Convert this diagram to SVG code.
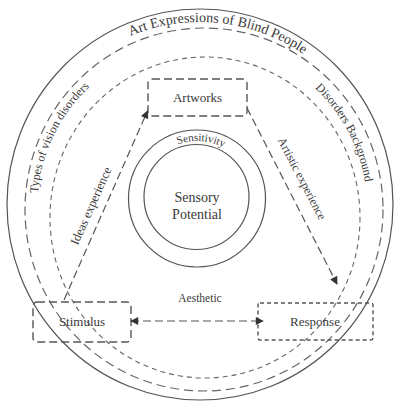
<svg xmlns="http://www.w3.org/2000/svg" width="395" height="403" viewBox="0 0 395 403">
<style>
text{font-family:"Liberation Serif","Times New Roman",serif;fill:#3a3a3a}
.solid{fill:none;stroke:#555;stroke-width:1.2}
.ring1{fill:none;stroke:#666;stroke-width:1.2;stroke-dasharray:9 5}
.ring2{fill:none;stroke:#666;stroke-width:1.1;stroke-dasharray:5 4}
.boxL{fill:none;stroke:#555;stroke-width:1.4;stroke-dasharray:8 4}
.boxS{fill:none;stroke:#555;stroke-width:1.4;stroke-dasharray:4 3}
.conn{fill:none;stroke:#555;stroke-width:1.2;stroke-dasharray:8 4}
</style>
<defs>
<marker id="ah" viewBox="0 0 10 10" refX="9" refY="5" markerWidth="9" markerHeight="8" markerUnits="userSpaceOnUse" orient="auto-start-reverse">
<path d="M0,0 L10,5 L0,10 z" fill="#333"/>
</marker>
<path id="pTop" d="M52 97.4 A183 183 0 0 1 367.2 130.6"/>
<path id="pLeft" d="M65.4 300.8 A166 166 0 0 1 191.4 42.4"/>
<path id="pRight" d="M208.7 44.1 A164 164 0 0 1 342.1 294.9"/>
<path id="pSens" d="M141.7 184.2 A57 57 0 0 1 253.7 192"/>
</defs>

<g id="outer-circle">
<ellipse class="solid" cx="200" cy="204.5" rx="193" ry="195.5"/>
<text font-size="14" text-anchor="middle"><textPath href="#pTop" startOffset="50%">Art Expressions of Blind People</textPath></text>
</g>
<g id="ring-outer">
<ellipse class="ring1" cx="204" cy="209.5" rx="179" ry="181.5"/>
</g>
<g id="ring-inner">
<ellipse class="ring2" cx="205" cy="217.5" rx="155" ry="160.5"/>
</g>
<g id="types-label">
<text font-size="12" text-anchor="middle"><textPath href="#pLeft" startOffset="50%">Types of vision disorders</textPath></text>
</g>
<g id="background-label">
<text font-size="12" text-anchor="middle"><textPath href="#pRight" startOffset="50%">Disorders Background</textPath></text>
</g>

<g id="sensitivity">
<circle class="solid" cx="197" cy="198.5" r="68.5"/>
<text font-size="11" text-anchor="middle"><textPath href="#pSens" startOffset="50%">Sensitivity</textPath></text>
</g>
<g id="sensory-potential">
<circle class="solid" cx="196.5" cy="197" r="52.5"/>
<text x="197" y="202" font-size="14" text-anchor="middle">Sensory</text>
<text x="197" y="219" font-size="14" text-anchor="middle">Potential</text>
</g>

<g id="artworks">
<rect class="boxL" x="148" y="79" width="99" height="37" rx="4"/>
<text x="197.5" y="102" font-size="13" text-anchor="middle">Artworks</text>
</g>
<g id="stimulus">
<rect class="boxL" x="33" y="302" width="98" height="40" rx="4"/>
<text x="82" y="326" font-size="13" text-anchor="middle">Stimulus</text>
</g>
<g id="response">
<rect class="boxS" x="258" y="303" width="115" height="37" rx="2"/>
<text x="315" y="326" font-size="13" text-anchor="middle">Response</text>
</g>

<g id="connectors">
<line class="conn" x1="64" y1="300" x2="147.5" y2="111" marker-end="url(#ah)"/>
<line class="conn" x1="247" y1="108" x2="337" y2="284" marker-end="url(#ah)"/>
<line class="conn" x1="131" y1="321" x2="263" y2="321" marker-start="url(#ah)" marker-end="url(#ah)"/>
<text font-size="12.5" text-anchor="middle" transform="translate(91 206) rotate(-66)" y="4">Ideas experience</text>
<text font-size="12" text-anchor="middle" transform="translate(302 178.5) rotate(62.5)" y="4">Artistic experience</text>
<text x="200" y="302" font-size="11.5" text-anchor="middle">Aesthetic</text>
</g>
</svg>
